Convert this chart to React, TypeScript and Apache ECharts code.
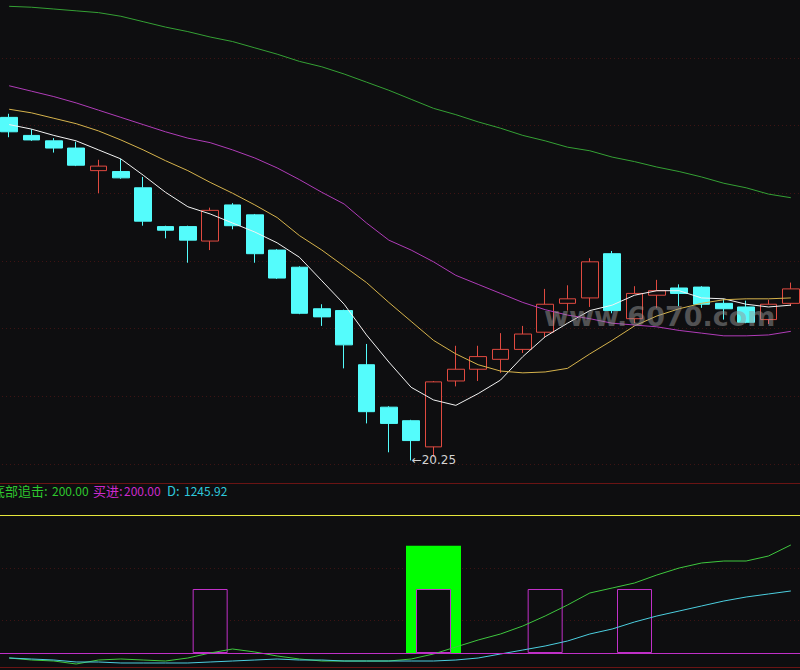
import React, { useEffect, useRef } from "react";
import * as echarts from "echarts";

// ---- top panel: daily candles (price) ----
const openP = [24.05, 23.85, 23.79, 23.71, 23.46, 23.45, 23.27, 22.84, 22.84, 22.68, 23.08, 22.97, 22.58, 22.39, 21.93, 21.91, 21.31, 20.84, 20.69, 20.40, 21.13, 21.26, 21.37, 21.48, 21.67, 21.99, 22.05, 22.54, 21.82, 22.08, 22.16, 22.17, 21.99, 21.95, 21.81, 21.99];
const closeP = [23.89, 23.80, 23.71, 23.52, 23.51, 23.38, 22.90, 22.80, 22.69, 23.02, 22.85, 22.54, 22.27, 21.88, 21.84, 21.53, 20.79, 20.66, 20.47, 21.12, 21.26, 21.40, 21.48, 21.65, 21.98, 22.04, 22.45, 21.91, 22.10, 22.13, 22.10, 21.98, 21.93, 21.78, 21.98, 22.15];
const lowP = [23.83, 23.79, 23.66, 23.51, 23.21, 23.37, 22.85, 22.71, 22.44, 22.58, 22.81, 22.44, 22.26, 21.87, 21.74, 21.27, 20.66, 20.34, 20.25, 20.29, 21.07, 21.13, 21.22, 21.44, 21.61, 21.91, 21.95, 21.88, 21.77, 21.94, 21.96, 21.94, 21.81, 21.77, 21.76, 21.96];
const highP = [24.09, 23.92, 23.82, 23.78, 23.58, 23.59, 23.39, 22.85, 22.85, 23.05, 23.10, 22.98, 22.59, 22.40, 21.98, 21.92, 21.54, 20.85, 20.70, 21.13, 21.52, 21.52, 21.66, 21.74, 22.15, 22.19, 22.49, 22.57, 22.18, 22.25, 22.20, 22.18, 22.04, 22.02, 22.03, 22.22];

// moving averages
const maWhite = [23.97, 23.92, 23.85, 23.79, 23.69, 23.59, 23.41, 23.22, 23.06, 22.98, 22.88, 22.78, 22.66, 22.50, 22.24, 21.98, 21.64, 21.34, 21.06, 20.92, 20.86, 20.99, 21.14, 21.40, 21.62, 21.77, 21.91, 21.97, 22.08, 22.13, 22.13, 22.05, 22.04, 21.98, 21.95, 21.97];
const maYellow = [24.14, 24.10, 24.04, 23.98, 23.90, 23.80, 23.69, 23.57, 23.46, 23.33, 23.21, 23.08, 22.94, 22.74, 22.58, 22.40, 22.22, 22.00, 21.79, 21.58, 21.43, 21.31, 21.24, 21.22, 21.23, 21.27, 21.43, 21.58, 21.74, 21.85, 21.93, 21.99, 22.03, 22.04, 22.04, 22.05];
const maMagenta = [24.40, 24.34, 24.28, 24.21, 24.13, 24.05, 23.97, 23.89, 23.82, 23.77, 23.69, 23.60, 23.49, 23.36, 23.22, 23.09, 22.88, 22.69, 22.58, 22.45, 22.30, 22.20, 22.10, 22.00, 21.92, 21.86, 21.82, 21.77, 21.75, 21.73, 21.69, 21.66, 21.63, 21.63, 21.64, 21.68];
const maGreen = [25.28, 25.27, 25.25, 25.23, 25.21, 25.17, 25.11, 25.05, 25.00, 24.94, 24.89, 24.82, 24.75, 24.67, 24.61, 24.53, 24.44, 24.35, 24.25, 24.15, 24.08, 24.00, 23.93, 23.85, 23.79, 23.72, 23.68, 23.61, 23.56, 23.50, 23.45, 23.39, 23.32, 23.27, 23.20, 23.16];
const priceGridLevels = [20.21, 20.96, 21.71, 22.46, 23.21, 23.96, 24.71];

// ---- bottom panel: indicator ----
const bottomChase = [null, null, null, null, null, null, null, null, null, null, null, null, null, null, null, null, null, null, null, 335, null, null, null, null, null, null, null, null, null, null, null, null, null, null, null, null];
const buySignal = [null, null, null, null, null, null, null, null, null, 200, null, null, null, null, null, null, null, null, null, 200, null, null, null, null, 200, null, null, null, 200, null, null, null, null, null, null, null];
const dLine = [147.5, 131.1, 114.7, 82.0, 82.0, 65.6, 65.6, 65.6, 65.6, 82.0, 98.3, 114.7, 131.1, 114.7, 114.7, 98.3, 98.3, 98.3, 98.3, 98.3, 114.7, 147.5, 213.1, 278.6, 344.2, 426.1, 540.9, 622.8, 737.6, 835.9, 917.8, 999.8, 1081.7, 1147.3, 1196.5, 1245.92];
const trendLine = [147.5, 114.7, 98.3, 49.2, 114.7, 131.1, 114.7, 98.3, 147.5, 229.5, 295.0, 245.9, 180.3, 131.1, 98.3, 98.3, 98.3, 98.3, 131.1, 213.1, 327.8, 442.5, 540.9, 672.0, 835.9, 1016.2, 1212.9, 1294.8, 1376.8, 1507.9, 1622.6, 1704.6, 1737.3, 1737.3, 1819.3, 1999.6];
const subGridLevels = [103.1, 265.6];
const yellowLevel = 431.25;
const headerNames = ["底部追击:", "买进:", "D:"];
const headerValues = ["200.00", "200.00", "1245.92"];
const lowLabelValue = 20.25;
const watermark = "www.6070.com";

const BG = "#0e0e10";
const CYAN = "#54fcfc";
const RED = "#e04a40";
const DARKRED = "#6a1414";
const DOT = "#3e1414";

export default function App() {
  const ref = useRef<HTMLDivElement>(null);

  useEffect(() => {
    if (!ref.current) return;
    const chart = echarts.init(ref.current, undefined, { renderer: "svg" });
    const days = openP.map((_, i) => "D" + (i + 1));
    const candles = openP.map((o, i) => [o, closeP[i], lowP[i], highP[i]]);
    const hiddenAxis = {
      show: false,
      axisLine: { show: false },
      axisTick: { show: false },
      axisLabel: { show: false },
      splitLine: { show: false },
    };
    const maLine = (name: string, data: number[], color: string) => ({
      name,
      type: "line",
      xAxisIndex: 0,
      yAxisIndex: 0,
      data,
      symbol: "none",
      showSymbol: false,
      lineStyle: { width: 1, color },
      itemStyle: { color },
      z: 3,
    });
    const dotted = { type: [1, 3], color: DOT, width: 1 };
    const headerColors = ["#2ec82e", "#cc2acc", "#2ec8dc"];
    const nameX = [-8, 93, 167];
    const valueX = [52, 124, 184];
    const header: any[] = [];
    headerNames.forEach((n, i) => {
      header.push({
        type: "text",
        x: nameX[i] + 2,
        y: 490,
        z: 10,
        style: { text: n, fill: headerColors[i], font: "13px 'Noto Sans CJK SC'", verticalAlign: "middle" },
      });
      header.push({
        type: "text",
        x: valueX[i] + 2,
        y: 490,
        z: 10,
        style: { text: headerValues[i], fill: headerColors[i], font: "12px 'Noto Sans CJK SC'", verticalAlign: "middle" },
      });
    });

    chart.setOption({
      animation: false,
      backgroundColor: BG,
      grid: [
        { left: 0, right: 0, top: 0, height: 483 },
        { left: 0, right: 0, top: 505, height: 162 },
      ],
      xAxis: [
        {
          type: "category",
          gridIndex: 0,
          data: days,
          boundaryGap: true,
          axisLine: { show: true, onZero: false, lineStyle: { color: DARKRED, width: 1 } },
          axisTick: { show: false },
          axisLabel: { show: false },
          splitLine: { show: false },
        },
        {
          type: "category",
          gridIndex: 1,
          data: days,
          boundaryGap: true,
          axisLine: { show: true, onZero: false, lineStyle: { color: DARKRED, width: 1 } },
          axisTick: { show: false },
          axisLabel: { show: false },
          splitLine: { show: false },
        },
        { type: "category", gridIndex: 1, data: days, boundaryGap: true, ...hiddenAxis },
      ],
      yAxis: [
        { type: "value", gridIndex: 0, min: 20.0, max: 25.35, ...hiddenAxis },
        { type: "value", gridIndex: 1, min: -43.75, max: 462.5, ...hiddenAxis },
        { type: "value", gridIndex: 1, min: 0, max: 2655.18, ...hiddenAxis },
      ],
      series: [
        {
          name: "grid-top",
          type: "line",
          xAxisIndex: 0,
          yAxisIndex: 0,
          data: [],
          z: 1,
          silent: true,
          markLine: {
            z: 1,
            silent: true,
            symbol: ["none", "none"],
            label: { show: false },
            lineStyle: dotted,
            data: priceGridLevels.map((v) => ({ yAxis: v })),
          },
        },
        {
          name: "K",
          type: "candlestick",
          xAxisIndex: 0,
          yAxisIndex: 0,
          data: candles,
          barWidth: 17,
          z: 2,
          itemStyle: {
            color: BG,
            color0: CYAN,
            borderColor: RED,
            borderColor0: CYAN,
            borderWidth: 1,
          },
          markPoint: {
            symbol: "circle",
            symbolSize: 1,
            itemStyle: { color: "rgba(0,0,0,0)" },
            label: {
              show: true,
              position: "right",
              distance: 0,
              color: "#d4d4d4",
              fontSize: 12,
              fontFamily: "DejaVu Sans",
              formatter: () => "←" + lowLabelValue.toFixed(2),
            },
            data: [{ type: "min", valueDim: "lowest" }],
          },
        },
        maLine("MA5", maWhite, "#f2f2f2"),
        maLine("MA10", maYellow, "#d6b34c"),
        maLine("MA20", maMagenta, "#b03cb8"),
        maLine("MA60", maGreen, "#34a034"),
        {
          name: "grid-bottom",
          type: "line",
          xAxisIndex: 1,
          yAxisIndex: 1,
          data: [],
          z: 1,
          silent: true,
          markLine: {
            z: 1,
            silent: true,
            symbol: ["none", "none"],
            label: { show: false },
            data: [
              ...subGridLevels.map((v) => ({ yAxis: v, lineStyle: dotted })),
              { yAxis: yellowLevel, lineStyle: { color: "#e6e63c", width: 1, type: "solid" } },
            ],
          },
        },
        {
          name: "trend",
          type: "line",
          xAxisIndex: 1,
          yAxisIndex: 2,
          data: trendLine,
          symbol: "none",
          showSymbol: false,
          lineStyle: { width: 1, color: "#3fc83f" },
          z: 2,
        },
        {
          name: "底部追击",
          type: "bar",
          xAxisIndex: 1,
          yAxisIndex: 1,
          data: bottomChase,
          barWidth: 55,
          itemStyle: { color: "#00ff00" },
          z: 2,
        },
        {
          name: "买进",
          type: "bar",
          xAxisIndex: 2,
          yAxisIndex: 1,
          data: buySignal,
          barWidth: 35,
          itemStyle: { color: BG, borderColor: "#c030c8", borderWidth: 1 },
          z: 2,
          markLine: {
            silent: true,
            symbol: ["none", "none"],
            label: { show: false },
            lineStyle: { color: "#c030c8", width: 1, type: "solid" },
            data: [{ yAxis: 0 }],
          },
        },
        {
          name: "D",
          type: "line",
          xAxisIndex: 1,
          yAxisIndex: 2,
          data: dLine,
          symbol: "none",
          showSymbol: false,
          lineStyle: { width: 1, color: "#4ccfe0" },
          z: 3,
        },
      ],
      graphic: [
        ...header,
        {
          type: "text",
          x: 546,
          y: 330,
          z: 20,
          style: {
            text: watermark,
            fill: "rgba(150,150,150,0.5)",
            font: "bold 27px 'DejaVu Sans'",
            verticalAlign: "bottom",
          },
        },
      ],
    });
    return () => chart.dispose();
  }, []);

  return (
    <div
      style={{
        position: "fixed",
        left: 0,
        top: 0,
        width: 800,
        height: 670,
        overflow: "hidden",
        background: BG,
      }}
    >
      <div ref={ref} style={{ position: "absolute", left: -2, top: 0, width: 804, height: 670 }} />
    </div>
  );
}
